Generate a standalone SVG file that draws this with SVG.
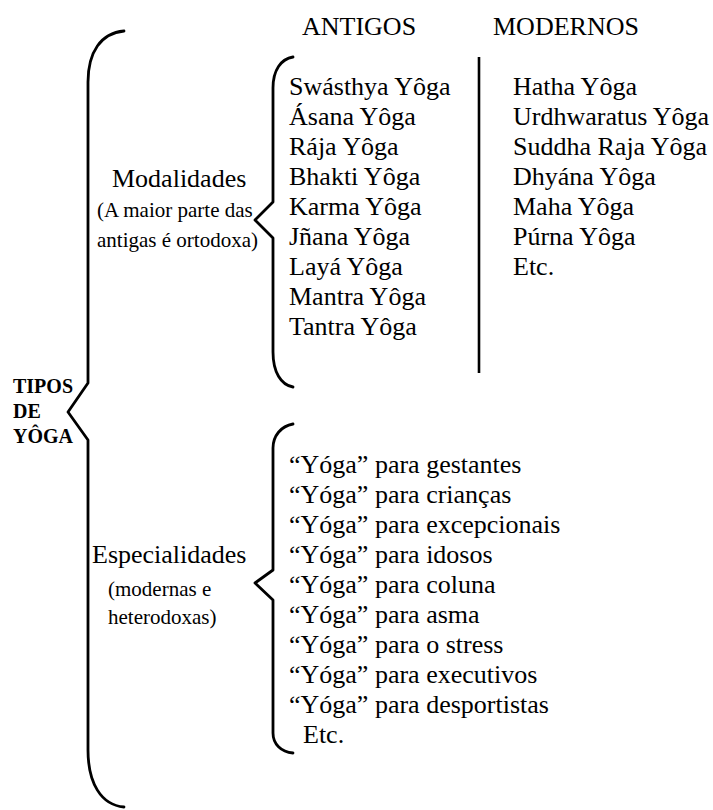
<svg xmlns="http://www.w3.org/2000/svg" width="713" height="810" viewBox="0 0 713 810">
  <style>
    .t { font-size: 26px; }
    .s { font-size: 21px; }
    .b { font-size: 20px; font-weight: bold; }
    .brace { fill: none; stroke: #000; stroke-width: 2.8; stroke-linejoin: round; stroke-linecap: round; }
    .rule { stroke: #000; stroke-width: 2.6; }
  </style>
  <rect width="713" height="810" fill="#fff"/>

  <!-- braces and divider -->
  <g id="connectors">
    <path class="brace" d="M124,31 C101,33 88,52 88,82 L88,383 L68,412 L88,440 L88,750 C88,783 101,805 124,807"/>
    <path class="brace" d="M293,57 C281,59 273,70 273,88 L273,202 L255,220 L273,238 L273,352 C273,372 281,385 293,387"/>
    <path class="brace" d="M293,424 C281,426 273,436 273,448 L273,570 L255,583 L273,600 L273,733 C273,744 281,752 293,753"/>
    <line class="rule" x1="479" y1="57" x2="479" y2="373"/>
  </g>

  <g font-family="Liberation Serif, Times New Roman, DejaVu Serif, serif" fill="#000">
    <g id="root">
      <text class="b" x="13" y="393">TIPOS</text>
      <text class="b" x="13" y="418">DE</text>
      <text class="b" x="13" y="443">YÔGA</text>
    </g>

    <g id="headers">
      <text class="t" x="302" y="35">ANTIGOS</text>
      <text class="t" x="493" y="35">MODERNOS</text>
    </g>

    <g id="modalidades">
      <text class="t" x="112" y="187">Modalidades</text>
      <text class="s" x="97" y="217">(A maior parte das</text>
      <text class="s" x="97" y="247">antigas é ortodoxa)</text>
    </g>

    <g id="antigos">
      <text class="t" x="289" y="95">Swásthya Yôga</text>
      <text class="t" x="289" y="125">Ásana Yôga</text>
      <text class="t" x="289" y="155">Rája Yôga</text>
      <text class="t" x="289" y="185">Bhakti Yôga</text>
      <text class="t" x="289" y="215">Karma Yôga</text>
      <text class="t" x="289" y="245">Jñana Yôga</text>
      <text class="t" x="289" y="275">Layá Yôga</text>
      <text class="t" x="289" y="305">Mantra Yôga</text>
      <text class="t" x="289" y="335">Tantra Yôga</text>
    </g>

    <g id="modernos">
      <text class="t" x="513" y="95">Hatha Yôga</text>
      <text class="t" x="513" y="125">Urdhwaratus Yôga</text>
      <text class="t" x="513" y="155">Suddha Raja Yôga</text>
      <text class="t" x="513" y="185">Dhyána Yôga</text>
      <text class="t" x="513" y="215">Maha Yôga</text>
      <text class="t" x="513" y="245">Púrna Yôga</text>
      <text class="t" x="513" y="275">Etc.</text>
    </g>

    <g id="especialidades">
      <text class="t" x="92" y="563">Especialidades</text>
      <text class="s" x="108" y="596">(modernas e</text>
      <text class="s" x="108" y="624">heterodoxas)</text>
    </g>

    <g id="especialidades-lista">
      <text class="t" x="289" y="473">“Yóga” para gestantes</text>
      <text class="t" x="289" y="503">“Yóga” para crianças</text>
      <text class="t" x="289" y="533">“Yóga” para excepcionais</text>
      <text class="t" x="289" y="563">“Yóga” para idosos</text>
      <text class="t" x="289" y="593">“Yóga” para coluna</text>
      <text class="t" x="289" y="623">“Yóga” para asma</text>
      <text class="t" x="289" y="653">“Yóga” para o stress</text>
      <text class="t" x="289" y="683">“Yóga” para executivos</text>
      <text class="t" x="289" y="713">“Yóga” para desportistas</text>
      <text class="t" x="303" y="743">Etc.</text>
    </g>
  </g>
</svg>
